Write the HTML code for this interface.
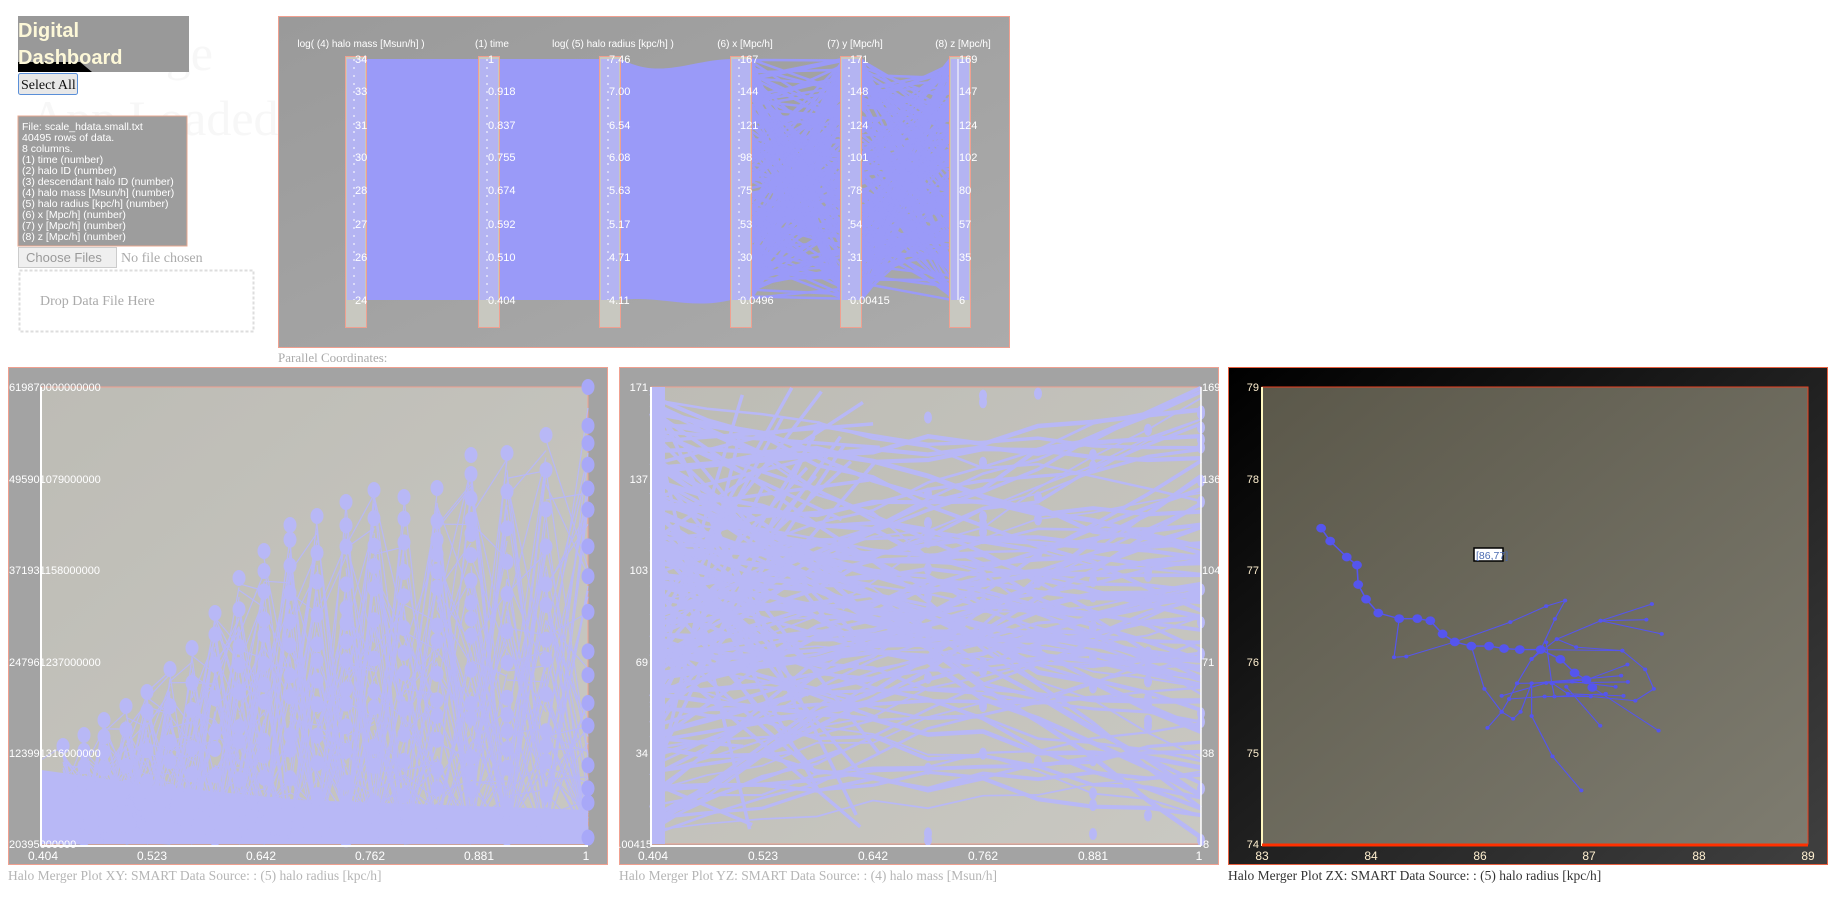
<!DOCTYPE html>
<html><head><meta charset="utf-8">
<style>
html,body{margin:0;padding:0;background:#fff;width:1837px;height:906px;overflow:hidden}
svg{display:block}
text{font-family:"Liberation Sans",sans-serif}
.s{font-family:"Liberation Serif",serif}
</style></head><body>
<svg id="sv" width="1837" height="906" viewBox="0 0 1837 906" xmlns="http://www.w3.org/2000/svg">
<defs>
<linearGradient id="pcg" x1="0" y1="0" x2="1" y2="1"><stop offset="0" stop-color="#9a9a9a"/><stop offset="1" stop-color="#ababab"/></linearGradient>
<linearGradient id="ing" x1="0" y1="0" x2="1" y2="1"><stop offset="0" stop-color="#bdbcb5"/><stop offset="1" stop-color="#c9c8c2"/></linearGradient>
<linearGradient id="zxo" x1="0" y1="0" x2="1" y2="1"><stop offset="0" stop-color="#000"/><stop offset="1" stop-color="#404040"/></linearGradient>
<linearGradient id="zxi" x1="0" y1="0" x2="1" y2="1"><stop offset="0" stop-color="#5b584a"/><stop offset="1" stop-color="#7e7c70"/></linearGradient>
</defs>
<text class="s" x="150" y="70" font-size="50" fill="#f7f7f7">rge</text>
<text class="s" x="30" y="135" font-size="50" fill="#f7f7f7">App Loaded</text>
<rect x="18" y="16" width="171" height="56" fill="#999"/>
<path d="M18 62 L80 62 L92 72 L18 72Z" fill="#000"/>
<text x="18" y="37" font-size="20" font-weight="bold" fill="#fdf8d8">Digital</text>
<text x="18" y="64" font-size="20" font-weight="bold" fill="#fdf8d8">Dashboard</text>
<rect x="18.5" y="73.5" width="59" height="21" fill="#e8e8e8" stroke="#5a8fd8" rx="2"/>
<text class="s" x="21" y="89" font-size="14" fill="#111">Select All</text>
<rect x="18" y="116" width="169" height="130" fill="#9d9d9d" stroke="#e8a890"/>
<g font-size="10.5" fill="#fff">
<text x="22" y="130">File: scale_hdata.small.txt</text>
<text x="22" y="141">40495 rows of data.</text>
<text x="22" y="152">8 columns.</text>
<text x="22" y="163">(1) time (number)</text>
<text x="22" y="174">(2) halo ID (number)</text>
<text x="22" y="185">(3) descendant halo ID (number)</text>
<text x="22" y="196">(4) halo mass [Msun/h] (number)</text>
<text x="22" y="207">(5) halo radius [kpc/h] (number)</text>
<text x="22" y="218">(6) x [Mpc/h] (number)</text>
<text x="22" y="229">(7) y [Mpc/h] (number)</text>
<text x="22" y="240">(8) z [Mpc/h] (number)</text>
</g>
<rect x="18.5" y="247.5" width="98" height="20" fill="#efefef" stroke="#ccc"/>
<text x="26" y="262" font-size="13" fill="#999">Choose Files</text>
<text class="s" x="121" y="262" font-size="14" fill="#aaa">No file chosen</text>
<rect x="19.5" y="270.5" width="234" height="61" fill="#fff" stroke="#ddd" stroke-dasharray="3,2" stroke-width="2"/>
<text class="s" x="40" y="305" font-size="14" fill="#aaa">Drop Data File Here</text>

<rect x="278.5" y="16.5" width="731" height="331" fill="url(#pcg)" stroke="#f0a090"/>
<g id="pc"></g>
<text class="s" x="278" y="362" font-size="13" fill="#aaa">Parallel Coordinates:</text>

<rect x="8.5" y="367.5" width="599" height="497" fill="#a3a3a3" stroke="#f0a090"/>
<rect x="41" y="387" width="547" height="457" fill="url(#ing)" stroke="#f0a090"/>
<g id="xy"></g>
<line x1="41" y1="387" x2="41" y2="846" stroke="#fff" stroke-width="2"/>
<line x1="41" y1="846" x2="588" y2="846" stroke="#fff" stroke-width="2"/>
<g font-size="11" fill="#fff">
<text x="9" y="391">619870000000000</text>
<text x="9" y="483">495901079000000</text>
<text x="9" y="574">371931158000000</text>
<text x="9" y="666">247961237000000</text>
<text x="9" y="757">123991316000000</text>
<text x="9" y="848">20395000000</text>
</g>
<g font-size="12" fill="#fff" text-anchor="middle">
<text x="43" y="860">0.404</text><text x="152" y="860">0.523</text><text x="261" y="860">0.642</text><text x="370" y="860">0.762</text><text x="479" y="860">0.881</text><text x="586" y="860">1</text>
</g>
<text class="s" x="8" y="880" font-size="13.5" fill="#b5b5b5">Halo Merger Plot XY: SMART Data Source: : (5) halo radius [kpc/h]</text>

<rect x="619.5" y="367.5" width="599" height="497" fill="#a3a3a3" stroke="#f0a090"/>
<rect x="651" y="387" width="550" height="457" fill="url(#ing)" stroke="#f0a090"/>
<g id="yz"></g>
<line x1="651" y1="387" x2="651" y2="846" stroke="#fff" stroke-width="2"/>
<line x1="651" y1="846" x2="1201" y2="846" stroke="#fff" stroke-width="2"/>
<line x1="1201" y1="387" x2="1201" y2="846" stroke="#fff" stroke-width="1.5"/>
<g font-size="11" fill="#fff" text-anchor="end">
<text x="648" y="391">171</text><text x="648" y="483">137</text><text x="648" y="574">103</text><text x="648" y="666">69</text><text x="648" y="757">34</text><text x="652" y="848">0.00415</text>
</g>
<g font-size="11" fill="#fff">
<text x="1202" y="391">169</text><text x="1202" y="483">136</text><text x="1202" y="574">104</text><text x="1202" y="666">71</text><text x="1202" y="757">38</text><text x="1203" y="848">8</text>
</g>
<g font-size="12" fill="#fff" text-anchor="middle">
<text x="653" y="860">0.404</text><text x="763" y="860">0.523</text><text x="873" y="860">0.642</text><text x="983" y="860">0.762</text><text x="1093" y="860">0.881</text><text x="1199" y="860">1</text>
</g>
<text class="s" x="619" y="880" font-size="13.5" fill="#b5b5b5">Halo Merger Plot YZ: SMART Data Source: : (4) halo mass [Msun/h]</text>

<rect x="1228.5" y="367.5" width="599" height="497" fill="url(#zxo)" stroke="#e86040"/>
<rect x="1262" y="387" width="546" height="457" fill="url(#zxi)" stroke="#e84020"/>
<line x1="1262" y1="387" x2="1262" y2="846" stroke="#fff8c0" stroke-width="2"/>
<line x1="1262" y1="845" x2="1808" y2="845" stroke="#ff3000" stroke-width="3"/>
<g font-size="11" fill="#fff0d0" text-anchor="end">
<text x="1259" y="391">79</text><text x="1259" y="483">78</text><text x="1259" y="574">77</text><text x="1259" y="666">76</text><text x="1259" y="757">75</text><text x="1259" y="848">74</text>
</g>
<g font-size="12" fill="#fff0d0" text-anchor="middle">
<text x="1262" y="860">83</text><text x="1371" y="860">84</text><text x="1480" y="860">86</text><text x="1589" y="860">87</text><text x="1699" y="860">88</text><text x="1808" y="860">89</text>
</g>
<g id="zx" transform="translate(1262,387) scale(0.3942,0.3478) translate(-108,-78)" fill="#5555ee" stroke="#5555ee"></g>
<rect x="1474" y="548" width="29" height="13" fill="#fff" stroke="#000" stroke-width="1.5"/>
<text x="1476" y="559" font-size="10.5" fill="#4a6ab0">[86,77]</text>
<text class="s" x="1228" y="880" font-size="13.5" fill="#333">Halo Merger Plot ZX: SMART Data Source: : (5) halo radius [kpc/h]</text>
</svg>
<script>
(function(){
var NS="http://www.w3.org/2000/svg";
function el(p,t,a){var e=document.createElementNS(NS,t);for(var k in a)e.setAttribute(k,a[k]);p.appendChild(e);return e;}
var seed=7;function R(){seed=(seed*16807)%2147483647;return (seed-1)/2147483646;}
var pc=document.getElementById('pc');
var ax=[356,489,610,741,851,960];
var T=59,B=300;
var P="#9a9af8";
el(pc,'polygon',{points:"367,59 478,59 478,300 367,300",fill:P});
el(pc,'polygon',{points:"500,59 600,59 600,300 500,300",fill:P});
el(pc,'path',{d:"M621 59 C660 80 690 60 731 59 L731 300 C690 310 660 295 621 300Z",fill:P});
for(var i=0;i<200;i++){var a=T+R()*(B-T),b=T+R()*(B-T);el(pc,'line',{x1:751,y1:a,x2:841,y2:b,stroke:P,"stroke-width":2.5});}
for(var i=0;i<200;i++){var a=T+R()*(B-T),b=T+R()*(B-T);el(pc,'line',{x1:862,y1:a,x2:950,y2:b,stroke:P,"stroke-width":2.5});}
var heads=["log(  (4) halo mass [Msun/h] )","(1) time","log(  (5) halo radius [kpc/h] )","(6) x [Mpc/h]","(7) y [Mpc/h]","(8) z [Mpc/h]"];
var hx=[361,492,613,745,855,963];
var ticks=[["34","33","31","30","28","27","26","24"],["1","0.918","0.837","0.755","0.674","0.592","0.510","0.404"],["7.46","7.00","6.54","6.08","5.63","5.17","4.71","4.11"],["167","144","121","98","75","53","30","0.0496"],["171","148","124","101","78","54","31","0.00415"],["169","147","124","102","80","57","35","6"]];
var ty=[59,91,125,157,190,224,257,300];
for(var j=0;j<6;j++){var x=ax[j];
 el(pc,'rect',{x:x-10.5,y:56.5,width:21,height:271,fill:"#c8c8c0",stroke:"#f0a090"});
 el(pc,'rect',{x:x-9,y:59,width:18,height:241,fill:"#b4b4f2"});
 el(pc,'line',{x1:x-2,y1:59,x2:x-2,y2:300,stroke:"#fff","stroke-width":1,"stroke-dasharray":j==5?"":"2,6"});
 var t=el(pc,'text',{x:hx[j],y:47,"font-size":10,fill:"#fff","text-anchor":"middle"});t.textContent=heads[j];
 for(var k=0;k<8;k++){var tt=el(pc,'text',{x:x-1,y:ty[k]+4,"font-size":11,fill:"#fff"});tt.textContent=ticks[j][k];}
}
var xy=document.getElementById('xy');
var cx=[63,84,104,126,147,170,192,215,239,264,290,317,346,374,404,437,471,507,546,588];
var tp=[746,735,720,706,692,669,648,613,578,551,525,516,502,490,497,488,455,453,435,387];
var C="#b8b8f6";
el(xy,'polygon',{points:"41,770 41,844 588,844 588,810 300,800 150,785",fill:C});
for(var i=0;i<cx.length-1;i++){
 for(var n=0;n<60;n++){var f=Math.pow(R(),1.8),g=Math.pow(R(),1.8);
  var a=844-f*(844-tp[i]),b=844-g*(844-tp[i+1]);
  el(xy,'line',{x1:cx[i],y1:a,x2:cx[i+1],y2:b,stroke:C,"stroke-width":1.2});}
}
for(var i=0;i<cx.length;i++){
 var y=tp[i];
 while(y<840){el(xy,'ellipse',{cx:cx[i],cy:y,rx:6.5,ry:8,fill:i==cx.length-1?"#a8a8f8":C});y+=14+R()*26;}
}
el(xy,'line',{x1:41,y1:760,x2:63,y2:746,stroke:C,"stroke-width":1});
var yz=document.getElementById('yz');
var yc=[651,707,762,817,873,928,983,1038,1093,1148,1201];
for(var n=0;n<95;n++){
 var a=387+R()*457,b=387+R()*457,w=1.5+R()*3.5;
 var pts=[];for(var k=0;k<yc.length;k++){var t=k/(yc.length-1);var yy=a+(b-a)*t+Math.sin(t*3.14)*(R()-0.5)*20;pts.push(yc[k]+","+yy.toFixed(1));}
 el(yz,'polyline',{points:pts.join(" "),fill:"none",stroke:C,"stroke-width":w});
}
for(var n=0;n<70;n++){var a=387+R()*457,b=387+R()*457;el(yz,'line',{x1:651,y1:a,x2:740+R()*150,y2:b,stroke:C,"stroke-width":3.5});}
el(yz,'rect',{x:651,y:387,width:14,height:457,fill:C});
for(var k=5;k<yc.length;k++)for(var n=0;n<14;n++)el(yz,'ellipse',{cx:yc[k],cy:390+R()*452,rx:4,ry:6,fill:C});
var zx=document.getElementById('zx');
var big=[[258,484],[281,521],[323,567],[349,590],[352,646],[372,688],[403,728],[456,744],[502,744],[535,750],[566,788],[597,811],[639,823],[684,823],[722,830],[762,833],[815,833],[865,861],[901,900],[931,920],[946,942]];
var lines=[
 [[456,744],[443,855],[474,853],[597,811],[738,754],[829,708],[877,692],[851,745],[815,833],[792,860],[755,930],[735,975],[716,1012],[680,1058]],
 [[639,823],[672,946],[716,1012],[745,1032],[764,1012],[792,930],[792,1024],[845,1140],[918,1238]],
 [[856,803],[967,750],[1097,702]],[[967,750],[1083,747]],[[967,750],[1122,788]],
 [[815,833],[1022,836],[1080,890],[1102,946],[1055,980],[942,968],[825,968],[735,975]],
 [[716,966],[829,929],[931,920],[1035,876]],[[792,860],[856,803],[905,826],[1022,836]],
 [[845,930],[884,960],[1025,966]],[[755,930],[1036,926]],[[880,940],[966,1052]],[[946,942],[1114,1066]],
 [[829,812],[843,930],[850,968],[980,960]],[[895,925],[1005,940]],[[792,930],[1019,908]]
];
lines.forEach(function(L){el(zx,'polyline',{points:L.map(function(p){return p.join(",")}).join(" "),fill:"none","stroke-width":3});
 L.forEach(function(p){el(zx,'circle',{cx:p[0],cy:p[1],r:5});});});
el(zx,'polyline',{points:big.map(function(p){return p.join(",")}).join(" "),fill:"none","stroke-width":4});
big.forEach(function(p){el(zx,'circle',{cx:p[0],cy:p[1],r:12});});
})();
</script>
</body></html>
